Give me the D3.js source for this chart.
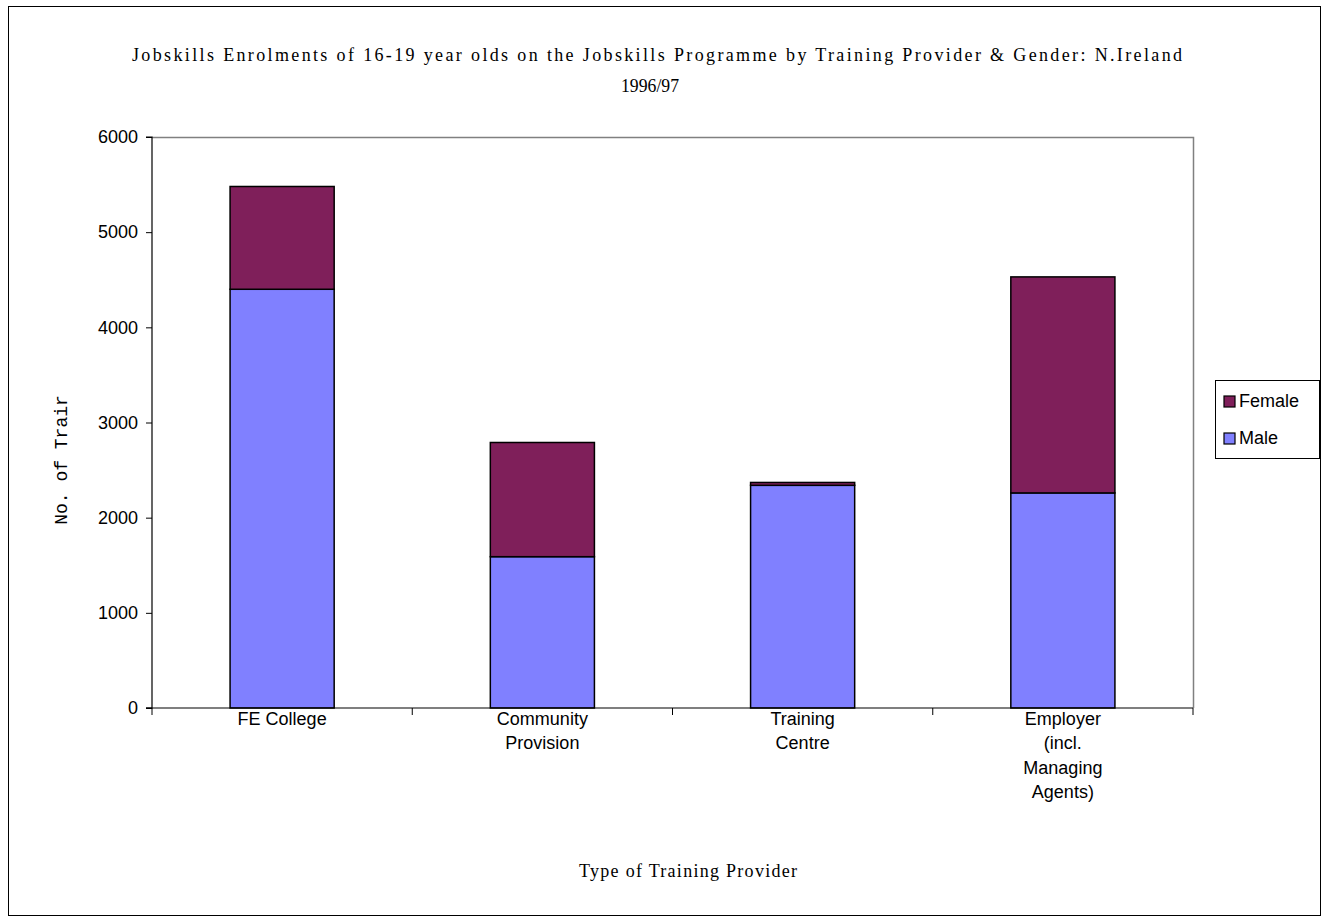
<!DOCTYPE html>
<html>
<head>
<meta charset="utf-8">
<script src="https://cdn.jsdelivr.net/npm/d3@7"></script>
<style>
  html, body { margin: 0; padding: 0; background: #fff; }
  svg { display: block; }
</style>
</head>
<body>
<svg id="chart" width="1323" height="923"></svg>
<script>
// Jobskills enrolments (16-19 year olds), N. Ireland 1996/97
const categories = ["FE College", "Community Provision", "Training Centre", "Employer (incl. Managing Agents)"];
const categoryLines = [["FE College"], ["Community", "Provision"], ["Training", "Centre"], ["Employer", "(incl.", "Managing", "Agents)"]];
const maleValues = [4400, 1590, 2340, 2260];
const femaleValues = [1080, 1200, 30, 2270];
const seriesNames = ["Male", "Female"];
const yTicks = [0, 1000, 2000, 3000, 4000, 5000, 6000];

const titleLine1 = "Jobskills Enrolments of 16-19 year olds on the Jobskills Programme by Training Provider & Gender: N.Ireland";
const titleLine2 = "1996/97";
const yTitle = "No. of Trair";
const xTitle = "Type of Training Provider";

const colors = { Male: "#8080FF", Female: "#7F1F5A" };

const svg = d3.select("#chart");
const plot = { left: 152, top: 137, right: 1193, bottom: 708 };

// outer frame
svg.append("rect")
  .attr("x", 8.5).attr("y", 6.5)
  .attr("width", 1312).attr("height", 909)
  .attr("fill", "#fff").attr("stroke", "#000").attr("stroke-width", 1);

// stacked table
const table = categories.map((c, i) => ({ category: c, Male: maleValues[i], Female: femaleValues[i] }));
const stacked = d3.stack().keys(seriesNames)(table);

const x = d3.scaleBand()
  .domain(categories)
  .range([plot.left, plot.right])
  .paddingInner(0.6)
  .paddingOuter(0.3);

const xEdges = d3.scaleBand().domain(categories).range([plot.left, plot.right]).padding(0);

const y = d3.scaleLinear().domain([0, 6000]).range([plot.bottom, plot.top]);

// plot area frame (grey top & right)
svg.append("path")
  .attr("d", `M${plot.left},${plot.top + 0.5}H${plot.right + 0.5}V${plot.bottom}`)
  .attr("fill", "none").attr("stroke", "#808080").attr("stroke-width", 1.5);

// bars
svg.append("g").selectAll("g")
  .data(stacked)
  .join("g")
  .attr("fill", d => colors[d.key])
  .selectAll("rect")
  .data(d => d)
  .join("rect")
  .attr("x", d => x(d.data.category))
  .attr("width", x.bandwidth())
  .attr("y", d => y(d[1]))
  .attr("height", d => y(d[0]) - y(d[1]))
  .attr("stroke", "#000")
  .attr("stroke-width", 1.5);

// y axis
const yAxis = d3.axisLeft(y).tickValues(yTicks).tickSize(6).tickPadding(8).tickFormat(d3.format("d"));
const gy = svg.append("g").attr("transform", `translate(${plot.left},0)`).call(yAxis);
gy.select(".domain").attr("stroke", "#000").attr("stroke-width", 1.2).attr("d", `M-6,${plot.top}H0V${plot.bottom}H-6`);
gy.selectAll(".tick line").attr("stroke", "#000").attr("x1", -6).attr("x2", 0);
gy.selectAll(".tick text")
  .attr("font-family", "Liberation Sans, Arial, sans-serif")
  .attr("font-size", 18).attr("fill", "#000");

// x axis line and tick marks between categories
const edges = categories.map(c => xEdges(c)).concat([plot.right]);
svg.append("line")
  .attr("x1", plot.left - 6).attr("x2", plot.right)
  .attr("y1", plot.bottom).attr("y2", plot.bottom)
  .attr("stroke", "#000").attr("stroke-width", 1.2);
svg.append("g").selectAll("line")
  .data(edges)
  .join("line")
  .attr("x1", d => d).attr("x2", d => d)
  .attr("y1", plot.bottom).attr("y2", plot.bottom + 7)
  .attr("stroke", "#000").attr("stroke-width", 1);

// category labels
svg.append("g").selectAll("text")
  .data(categories)
  .join("text")
  .attr("x", d => x(d) + x.bandwidth() / 2)
  .attr("y", 725)
  .attr("text-anchor", "middle")
  .attr("font-family", "Liberation Sans, Arial, sans-serif")
  .attr("font-size", 18)
  .attr("fill", "#000")
  .each(function (d, i) {
    const t = d3.select(this);
    categoryLines[i].forEach((line, j) => {
      t.append("tspan")
        .attr("x", x(d) + x.bandwidth() / 2)
        .attr("dy", j === 0 ? 0 : 24.3)
        .text(line);
    });
  });

// titles
const serif = "Liberation Serif, Times New Roman, serif";
svg.append("text")
  .attr("x", 657).attr("y", 61)
  .attr("text-anchor", "middle")
  .attr("font-family", serif).attr("font-size", 18)
  .attr("textLength", 1050).attr("lengthAdjust", "spacing")
  .text(titleLine1);
svg.append("text")
  .attr("x", 650).attr("y", 92)
  .attr("text-anchor", "middle")
  .attr("font-family", serif).attr("font-size", 18)
  .attr("textLength", 58).attr("lengthAdjust", "spacingAndGlyphs")
  .text(titleLine2);

svg.append("text")
  .attr("x", 688).attr("y", 877)
  .attr("text-anchor", "middle")
  .attr("font-family", serif).attr("font-size", 18)
  .attr("textLength", 218).attr("lengthAdjust", "spacing")
  .text(xTitle);

svg.append("text")
  .attr("transform", "translate(67,460) rotate(-90)")
  .attr("text-anchor", "middle")
  .attr("font-family", "Liberation Mono, Courier New, monospace")
  .attr("font-size", 18)
  .text(yTitle);

// legend
const legend = svg.append("g");
legend.append("rect")
  .attr("x", 1215.5).attr("y", 380.5).attr("width", 104).attr("height", 78)
  .attr("fill", "#fff").attr("stroke", "#000").attr("stroke-width", 1);
const legendOrder = ["Female", "Male"];
const ly = d3.scalePoint().domain(legendOrder).range([401, 438]);
legend.selectAll("g.item")
  .data(legendOrder)
  .join("g")
  .attr("class", "item")
  .each(function (k) {
    const g = d3.select(this);
    g.append("rect")
      .attr("x", 1224).attr("y", ly(k) - 5).attr("width", 11).attr("height", 11)
      .attr("fill", colors[k]).attr("stroke", "#000").attr("stroke-width", 1.2);
    g.append("text")
      .attr("x", 1239).attr("y", ly(k) + 6)
      .attr("font-family", "Liberation Sans, Arial, sans-serif")
      .attr("font-size", 18).attr("fill", "#000")
      .text(k);
  });
</script>
</body>
</html>
